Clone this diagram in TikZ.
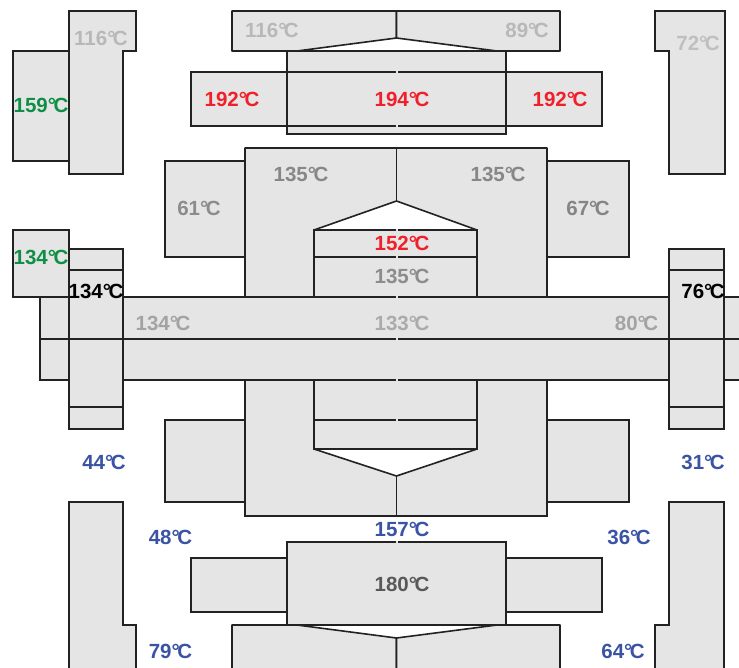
\documentclass[tikz,border=0pt]{standalone}
\usepackage{fontspec}
\setmainfont{Liberation Sans}
\usepackage{tikz}
\definecolor{partfill}{HTML}{E5E5E5}
\definecolor{partline}{HTML}{222222}
\definecolor{hotred}{HTML}{F0202A}
\definecolor{coolblue}{HTML}{3A53A4}
\definecolor{warmgreen}{HTML}{0F8F46}
\newcommand{\degc}{°\kern-2.5pt C}

\begin{document}
\begin{tikzpicture}[
  x=1pt, y=-1pt,
  part/.style={draw=partline, fill=partfill, line width=1.15pt},
  slant/.style={part, line width=1.6pt, line join=bevel},
  seam/.style={draw=partfill, line width=1.4pt},
  temp/.style={font=\fontsize{20.5}{21}\selectfont\bfseries, inner sep=0pt},
]
  \useasboundingbox (0,0) rectangle (739,667);

  % Top: corner pieces
  \draw[part] (13,51) rectangle (69,161);
  \draw[part] (69,11) -- (136,11) -- (136,51) -- (123,51) -- (123,174) -- (69,174) -- cycle;
  \draw[part] (655,11) -- (725,11) -- (725,174) -- (669,174) -- (669,51) -- (655,51) -- cycle;

  % Top: plates and heater block
  \draw[slant] (232,11) -- (396.5,11) -- (396.5,38) -- (297,51) -- (232,51) -- cycle;
  \draw[slant] (560,11) -- (396.5,11) -- (396.5,38) -- (497,51) -- (560,51) -- cycle;
  \draw[part] (287,51) rectangle (506,134);
  \draw[part] (191,72) rectangle (602,126);
  \draw[part] (287,72) -- (287,126);
  \draw[part] (506,72) -- (506,126);

  % Upper housing
  \draw[part] (165,161) rectangle (245,257);
  \draw[part] (547,161) rectangle (629,257);
  \draw[slant] (245,148) -- (547,148) -- (547,297) -- (477,297) -- (477,230) -- (396.5,201)
    -- (314,230) -- (314,297) -- (245,297) -- cycle;
  \draw[slant] (396.5,148) -- (396.5,201);
  \draw[part] (314,230) rectangle (477,297);
  \draw[part] (314,257) -- (477,257);

  % Lower housing
  \draw[part] (165,420) rectangle (245,502);
  \draw[part] (547,420) rectangle (629,502);
  \draw[part] (245,380) rectangle (547,516);
  \draw[slant, fill=white] (314,449) -- (477,449) -- (396.5,476) -- cycle;
  \draw[slant] (396.5,476) -- (396.5,516);
  \draw[part] (314,380) rectangle (477,449);
  \draw[part] (314,420) -- (477,420);

  % Middle bar and columns
  \draw[part] (13,230) rectangle (69,297);
  \draw[part] (40,297) rectangle (742,380);
  \draw[part] (69,249) rectangle (123,429);
  \draw[part] (669,249) rectangle (724,429);
  \draw[part] (69,270) -- (123,270);
  \draw[part] (69,407) -- (123,407);
  \draw[part] (669,270) -- (724,270);
  \draw[part] (669,407) -- (724,407);
  \draw[part] (40,339) -- (742,339);

  % Bottom: heater block, plates and corner pieces
  \draw[part] (287,542) rectangle (506,625);
  \draw[part] (191,558) rectangle (287,612);
  \draw[part] (506,558) rectangle (602,612);
  \draw[slant] (232,670) -- (232,625) -- (297,625) -- (396.5,638) -- (396.5,670);
  \draw[slant] (560,670) -- (560,625) -- (497,625) -- (396.5,638) -- (396.5,670);
  \draw[part] (69,670) -- (69,502) -- (123,502) -- (123,625) -- (136,625) -- (136,670);
  \draw[part] (724,670) -- (724,502) -- (669,502) -- (669,625) -- (655,625) -- (655,670);

  % Small breaks on the centre line
  \foreach \y in {72,126,230,257,297,339,380,420,542}
    \draw[seam] (395.6,\y) -- (397.6,\y);

  % Temperatures
  \node[temp, text=black!28] (cornerTL) at (101,38) {116\degc};
  \node[temp, text=warmgreen] (sideTL) at (41,105) {159\degc};
  \node[temp, text=black!28] (plateTL) at (272,30) {116\degc};
  \node[temp, text=black!28] (plateTR) at (527,30) {89\degc};
  \node[temp, text=black!25] (cornerTR) at (698,43) {72\degc};
  \node[temp, text=hotred] (heatL) at (232,99) {192\degc};
  \node[temp, text=hotred] (heatM) at (402,99) {194\degc};
  \node[temp, text=hotred] (heatR) at (560,99) {192\degc};
  \node[temp, text=black!47] (houseL) at (301,174) {135\degc};
  \node[temp, text=black!47] (houseR) at (498,174) {135\degc};
  \node[temp, text=black!45] (sideL) at (199,208) {61\degc};
  \node[temp, text=black!48] (sideR) at (588,208) {67\degc};
  \node[temp, text=hotred] (innerA) at (402,243) {152\degc};
  \node[temp, text=black!45] (innerB) at (402,276) {135\degc};
  \node[temp, text=warmgreen] (sideML) at (41,257) {134\degc};
  \node[temp, text=black] (colL) at (96,291) {134\degc};
  \node[temp, text=black] (colR) at (703,291) {76\degc};
  \node[temp, text=black!36] (barL) at (163,323) {134\degc};
  \node[temp, text=black!33] (barM) at (402,323) {133\degc};
  \node[temp, text=black!36] (barR) at (636.5,323) {80\degc};
  \node[temp, text=coolblue] (lowL) at (104,462) {44\degc};
  \node[temp, text=coolblue] (lowR) at (703,462) {31\degc};
  \node[temp, text=coolblue] (lowMidL) at (170.5,537) {48\degc};
  \node[temp, text=coolblue] (lowMidR) at (629,537) {36\degc};
  \node[temp, text=coolblue] (lowM) at (402,529) {157\degc};
  \node[temp, text=black!65] (heatB) at (402,584) {180\degc};
  \node[temp, text=coolblue] (botL) at (170.5,651) {79\degc};
  \node[temp, text=coolblue] (botR) at (623,651) {64\degc};
\end{tikzpicture}
\end{document}
